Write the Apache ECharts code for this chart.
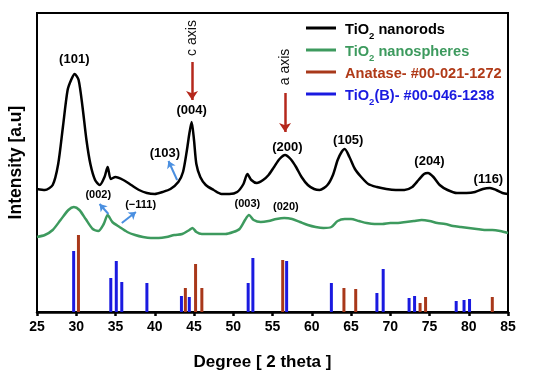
<!DOCTYPE html>
<html><head><meta charset="utf-8">
<script src="https://cdn.jsdelivr.net/npm/echarts@6/dist/echarts.min.js"></script>
<style>html,body{margin:0;padding:0;background:#fff}#c{width:550px;height:381px}</style>
</head><body><div id="c"></div>
<script>
var xTicks = [25,30,35,40,45,50,55,60,65,70,75,80,85];
var nanorods = [[25,123],[26,122],[27,127],[27.7,148],[28.3,185],[28.9,222],[29.4,233],[29.8,238],[30.3,232],[30.8,205],[31.3,172],[31.8,148],[32.4,132],[33,127],[33.6,135],[34,145],[34.4,133],[35,135],[36,132],[37,127],[38,122],[39,119],[40,118],[41,120],[42,123],[43,130],[43.6,140],[44.1,162],[44.4,178],[44.7,190],[45,172],[45.3,148],[45.8,135],[46.5,127],[47.5,122],[48.5,118],[49.5,118],[50.5,120],[51.3,128],[51.8,138],[52.3,132],[53,129],[53.8,132],[54.5,137],[55.2,145],[55.9,153],[56.6,157],[57.3,153],[58,145],[58.7,135],[59.5,127],[60.3,123],[61,122],[62,127],[62.7,137],[63.3,152],[63.8,160],[64.2,163],[64.8,155],[65.5,143],[66.3,135],[67.2,128],[68.3,125],[69.5,123],[70.7,122],[71.8,122],[72.8,125],[73.6,132],[74.3,138],[74.8,139],[75.5,135],[76.3,127],[77.3,122],[78.5,119],[79.7,119],[80.8,120],[81.8,123],[82.7,124],[83.5,122],[84.3,119],[85,118]];
var nanospheres = [[25,75],[26,77],[27,82],[28,92],[29,102],[29.7,105],[30.4,102],[31.2,93],[32.1,83],[32.8,81],[33.5,88],[34,97],[34.6,90],[35.5,85],[36.5,80],[37.5,77],[38.5,75],[39.5,74],[40.5,74],[41.5,75],[42.5,77],[43.5,78],[44.4,82],[44.8,84],[45.3,80],[46,78],[47,78],[48,78],[49,78],[50,80],[50.8,83],[51.5,92],[52,97],[52.6,92],[53.5,90],[54.5,91],[55.5,93],[56.5,94],[57.5,93],[58.5,90],[59.5,87],[60.5,85],[61.5,84],[62.5,85],[63.3,91],[64.2,93],[65,93],[66,91],[67,89],[68,88],[69,88],[70,89],[71,89],[72,90],[73,91],[74,92],[75,91],[76,89],[77,88],[78,86],[79,85],[80,84],[81,83],[82,82],[83,82],[84,81],[85,79]];
var anatase = [[30.28,77],[43.9,24],[45.2,48],[46.0,24],[56.3,52],[64.1,24],[65.6,23],[73.8,9],[74.5,15],[83.0,15]];
var tio2b = [[29.67,61],[34.4,34],[35.1,51],[35.8,30],[39.0,29],[43.4,16],[44.4,15],[51.9,29],[52.5,54],[56.8,51],[62.5,29],[68.3,19],[69.1,43],[72.4,14],[73.1,16],[78.4,11],[79.4,12],[80.1,13]];
var peakLabels = [[29.75,253,'(101)'],[44.7,202,'(004)'],[41.3,159,'(103)'],[56.9,165,'(200)'],[64.65,172,'(105)'],[75.0,151,'(204)'],[82.5,133,'(116)']];
var smallLabels = [[32.8,117,'(002)'],[38.2,107,'(\u2212111)'],[51.8,108,'(003)'],[56.7,105,'(020)']];
var axisTexts = [[44.75,274,'c axis'],[56.6,245,'a axis']];
var redArrows = [[[44.75,250],[44.75,212]],[[56.6,219],[56.6,180]]];
var blueArrows = [[[42.85,132],[41.75,151]],[[34.1,98],[32.97,108]],[[35.8,89],[37.6,100]]];

var FF = 'Liberation Sans, Arial, sans-serif';
var names = ['TiO2 nanorods','TiO2 nanospheres','Anatase- #00-021-1272','TiO2(B)- #00-046-1238'];
var cols = ['#000000','#3d9a5e','#b03a18','#1a1ae0'];
var richFor = function(c){return {m:{color:c,fontSize:14.6,fontWeight:'bold',fontFamily:FF,lineHeight:18,verticalAlign:'bottom'},s:{color:c,fontSize:9.5,fontWeight:'bold',fontFamily:FF,lineHeight:18,verticalAlign:'bottom',padding:[0,0,-4,0]}};};
var lbl = function(size,color,rot){return {show:true,position:'inside',rotate:rot||0,formatter:function(p){return p.data[2];},color:color,opacity:1,textBorderWidth:0,fontSize:size,fontWeight:rot?'normal':'bold',fontFamily:FF};};
var chart = echarts.init(document.getElementById('c'));
chart.setOption({
  animation:false,
  grid:{left:37,right:42,top:13,bottom:69,show:true,borderColor:'#000',borderWidth:2,outerBoundsMode:'none',containLabel:false},
  legend:{orient:'vertical',left:301,top:17,itemWidth:30,itemHeight:3,itemGap:3,icon:'rect',
    data:names.map(function(n,i){return {name:n,textStyle:{color:cols[i],rich:richFor(cols[i])}};}),
    formatter:function(n){
      if(n===names[0]) return '{m| TiO}{s|2}{m| nanorods}';
      if(n===names[1]) return '{m| TiO}{s|2}{m| nanospheres}';
      if(n===names[2]) return '{m| Anatase- #00-021-1272}{s| }';
      return '{m| TiO}{s|2}{m|(B)- #00-046-1238}';
    }},
  xAxis:{type:'value',min:25,max:85,interval:5,
    axisLine:{lineStyle:{color:'#000',width:2.5}},
    axisTick:{show:true,inside:false,length:4,lineStyle:{color:'#000',width:2.5}},
    splitLine:{show:false},
    axisLabel:{color:'#000',fontSize:14,fontWeight:'bold',fontFamily:FF,margin:8,
      formatter:function(v){return xTicks.indexOf(v)>=0?String(v):'';}},
    name:'Degree [ 2 theta ]',nameLocation:'middle',nameGap:42,
    nameTextStyle:{color:'#000',fontSize:17,fontWeight:'bold',fontFamily:FF,padding:[0,20,0,0]}},
  yAxis:{type:'value',min:0,max:299,
    axisLine:{show:true,lineStyle:{color:'#000',width:2}},axisTick:{show:false},axisLabel:{show:false},splitLine:{show:false},
    name:'Intensity [a.u]',nameLocation:'middle',nameGap:12,
    nameTextStyle:{color:'#000',fontSize:17.5,fontWeight:'bold',fontFamily:FF}},
  series:[
    {name:names[0],type:'line',data:nanorods,showSymbol:false,smooth:0.25,lineStyle:{color:cols[0],width:2.5},itemStyle:{color:cols[0]},z:5},
    {name:names[1],type:'line',data:nanospheres,showSymbol:false,smooth:0.25,lineStyle:{color:cols[1],width:2.5},itemStyle:{color:cols[1]},z:5},
    {name:names[2],type:'bar',data:anatase,barWidth:3,barGap:'-100%',itemStyle:{color:'#a8381a'},z:4},
    {name:names[3],type:'bar',data:tio2b,barWidth:3,barGap:'-100%',itemStyle:{color:'#1a1ae0'},z:4},
    {type:'scatter',data:peakLabels,symbolSize:0,silent:true,z:6,itemStyle:{opacity:1},label:lbl(13,'#000')},
    {type:'scatter',data:smallLabels,symbolSize:0,silent:true,z:6,itemStyle:{opacity:1},label:lbl(11,'#000')},
    {type:'scatter',data:axisTexts,symbolSize:0,silent:true,z:6,itemStyle:{opacity:1},label:lbl(14,'#111',90)},
    {type:'lines',coordinateSystem:'cartesian2d',silent:true,z:6,symbol:['none','arrow'],symbolSize:9,
      lineStyle:{color:'#b5281c',width:2.5,opacity:1},
      data:redArrows.map(function(c){return {coords:c};})},
    {type:'lines',coordinateSystem:'cartesian2d',silent:true,z:6,symbol:['none','arrow'],symbolSize:7,
      lineStyle:{color:'#4a8fe0',width:2,opacity:1},
      data:blueArrows.map(function(c){return {coords:c};})}
  ]
});
</script></body></html>
